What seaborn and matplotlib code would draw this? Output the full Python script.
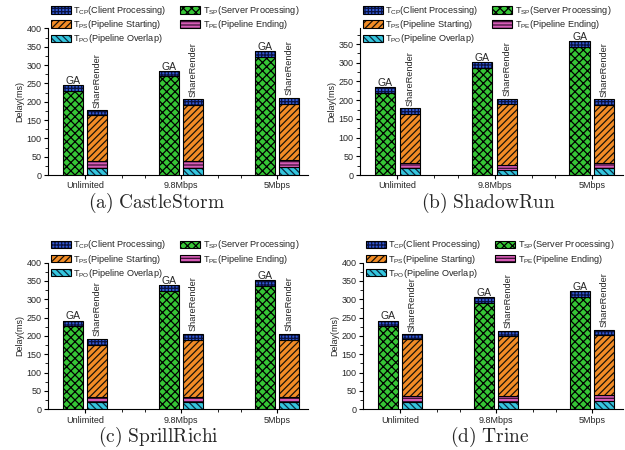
import numpy as np
import matplotlib
matplotlib.use("Agg")
import matplotlib.pyplot as plt
from matplotlib.patches import Patch
from matplotlib.ticker import FixedLocator, MultipleLocator
import seaborn as sns

# network conditions (x categories)
conditions = ["Unlimited", "9.8Mbps", "5Mbps"]

# CastleStorm
castle_ga_server = [230, 270, 323]
castle_ga_client = [15, 14, 14]
castle_sr_overlap = [18, 18, 21]
castle_sr_ending = [20, 20, 20]
castle_sr_starting = [126, 153, 153]
castle_sr_client = [13, 15, 16]

# ShadowRun
shadow_ga_server = [218, 287, 342]
shadow_ga_client = [16, 16, 15]
shadow_sr_overlap = [20, 13, 20]
shadow_sr_ending = [11, 14, 13]
shadow_sr_starting = [132, 162, 154]
shadow_sr_client = [15, 14, 15]

# SprillRichi
sprill_ga_server = [226, 323, 336]
sprill_ga_client = [16, 16, 17]
sprill_sr_overlap = [21, 21, 21]
sprill_sr_ending = [13, 13, 13]
sprill_sr_starting = [141, 155, 155]
sprill_sr_client = [17, 17, 17]

# Trine
trine_ga_server = [226, 289, 307]
trine_ga_client = [16, 16, 16]
trine_sr_overlap = [21, 21, 23]
trine_sr_ending = [16, 15, 16]
trine_sr_starting = [154, 164, 164]
trine_sr_client = [14, 14, 14]

sns.set_theme(style="ticks")
plt.rcParams["font.family"] = ["Liberation Sans", "DejaVu Sans"]
plt.rcParams["mathtext.fontset"] = "custom"
plt.rcParams["mathtext.rm"] = "Liberation Sans"
plt.rcParams["mathtext.it"] = "Liberation Sans:italic"
plt.rcParams["hatch.linewidth"] = 0.9

# face colour, hatch, hatch colour
STYLES = {
    "cp": ("#3159d4", "+++++", "#0a1240"),
    "sp": ("#36c636", "xxxx", "#000000"),
    "ps": ("#f28c26", "/////", "#1a1208"),
    "pe": ("#d65cb6", "-----", "#3a0f33"),
    "po": ("#35c6de", "\\\\\\\\\\", "#0b2a40"),
}
LABELS = {
    "cp": r"T$_{\rm CP}$(Client Processing)",
    "sp": r"T$_{\rm SP}$(Server Processing)",
    "ps": r"T$_{\rm PS}$(Pipeline Starting)",
    "pe": r"T$_{\rm PE}$(Pipeline Ending)",
    "po": r"T$_{\rm PO}$(Pipeline Overlap)",
}

BAR_W = 0.208
OFFSET = 0.127


def stacked(ax, xpos, segments):
    bottom = np.zeros(len(xpos))
    for key, vals in segments:
        face, hatch, hcol = STYLES[key]
        vals = np.asarray(vals, dtype=float)
        sns.barplot(x=xpos, y=vals, native_scale=True, orient="x", width=BAR_W,
                    color=face, saturation=1, errorbar=None, ax=ax,
                    bottom=bottom, hatch=hatch, edgecolor=hcol, linewidth=0)
        sns.barplot(x=xpos, y=vals, native_scale=True, orient="x", width=BAR_W,
                    color="black", fill=False, errorbar=None, ax=ax,
                    bottom=bottom, linewidth=0.8)
        bottom = bottom + vals
    return bottom


def draw_panel(ax, ga_sp, ga_cp, sr_po, sr_pe, sr_ps, sr_cp, ymax, ystep_max):
    idx = np.arange(len(conditions))
    x_ga = idx - OFFSET
    x_sr = idx + OFFSET
    ga_top = stacked(ax, x_ga, [("sp", ga_sp), ("cp", ga_cp)])
    sr_top = stacked(ax, x_sr, [("po", sr_po), ("pe", sr_pe), ("ps", sr_ps), ("cp", sr_cp)])

    for xg, tg, xs, ts in zip(x_ga, ga_top, x_sr, sr_top):
        ax.text(xg, tg + 3, "GA", ha="center", va="baseline", fontsize=7.5)
        ax.text(xs, ts + 7, "ShareRender", ha="center", va="bottom",
                rotation=90, fontsize=6.7)

    ax.set_xlim(-0.385, 2.32)
    ax.set_ylim(0, ymax)
    ax.set_xticks(idx)
    ax.set_xticklabels(conditions)
    ax.xaxis.set_minor_locator(FixedLocator([0.38, 1 - 0.38, 1.38, 2 - 0.38]))
    ax.yaxis.set_major_locator(FixedLocator(np.arange(0, ystep_max + 1, 50)))
    ax.yaxis.set_minor_locator(MultipleLocator(25))
    ax.set_ylabel("Delay(ms)", fontsize=6.5, labelpad=2)
    ax.set_xlabel("")
    ax.tick_params(axis="both", which="major", length=3, width=0.8,
                   labelsize=6.5, pad=1.5, direction="out", color="black")
    ax.tick_params(axis="both", which="minor", length=2, width=0.6,
                   direction="out", color="black")
    for side in ["top", "right"]:
        ax.spines[side].set_visible(False)
    for side in ["left", "bottom"]:
        ax.spines[side].set_color("black")
        ax.spines[side].set_linewidth(0.8)
    ax.set_facecolor("white")

    order = ["cp", "ps", "po", "sp", "pe"]
    handles = []
    for key in order:
        face, hatch, hcol = STYLES[key]
        handles.append((Patch(facecolor=face, hatch=hatch, edgecolor=hcol, linewidth=0),
                        Patch(fill=False, edgecolor="black", linewidth=0.8)))
    ax.legend(handles, [LABELS[k] for k in order], loc="upper left",
              bbox_to_anchor=(0.01, 1.165), ncol=2, frameon=False, fontsize=6.6,
              handlelength=2.2, handleheight=0.85, handletextpad=0.25,
              columnspacing=1.5, labelspacing=0.12, borderpad=0, borderaxespad=0)


fig = plt.figure(figsize=(6.25, 4.5), dpi=100)
fig.patch.set_facecolor("white")

panels = [
    ([0.0768, 0.611, 0.416, 0.326], castle_ga_server, castle_ga_client, castle_sr_overlap,
     castle_sr_ending, castle_sr_starting, castle_sr_client, 400, 400,
     r"$\mathrm{(a)\ CastleStorm}$", 0.251, 0.548),
    ([0.576, 0.611, 0.4208, 0.326], shadow_ga_server, shadow_ga_client, shadow_sr_overlap,
     shadow_sr_ending, shadow_sr_starting, shadow_sr_client, 392, 350,
     r"$\mathrm{(b)\ ShadowRun}$", 0.781, 0.548),
    ([0.0768, 0.0904, 0.416, 0.326], sprill_ga_server, sprill_ga_client, sprill_sr_overlap,
     sprill_sr_ending, sprill_sr_starting, sprill_sr_client, 400, 400,
     r"$\mathrm{(c)\ SprillRichi}$", 0.253, 0.03),
    ([0.5808, 0.0904, 0.416, 0.326], trine_ga_server, trine_ga_client, trine_sr_overlap,
     trine_sr_ending, trine_sr_starting, trine_sr_client, 400, 400,
     r"$\mathrm{(d)\ Trine}$", 0.784, 0.03),
]

for rect, gsp, gcp, spo, spe, sps, scp, ymax, ytop, caption, cx, cy in panels:
    ax = fig.add_axes(rect)
    draw_panel(ax, gsp, gcp, spo, spe, sps, scp, ymax, ytop)
    fig.text(cx, cy, caption, ha="center", va="center", fontsize=14,
             math_fontfamily="cm")

fig.savefig("out.png", dpi=100, facecolor="white")
